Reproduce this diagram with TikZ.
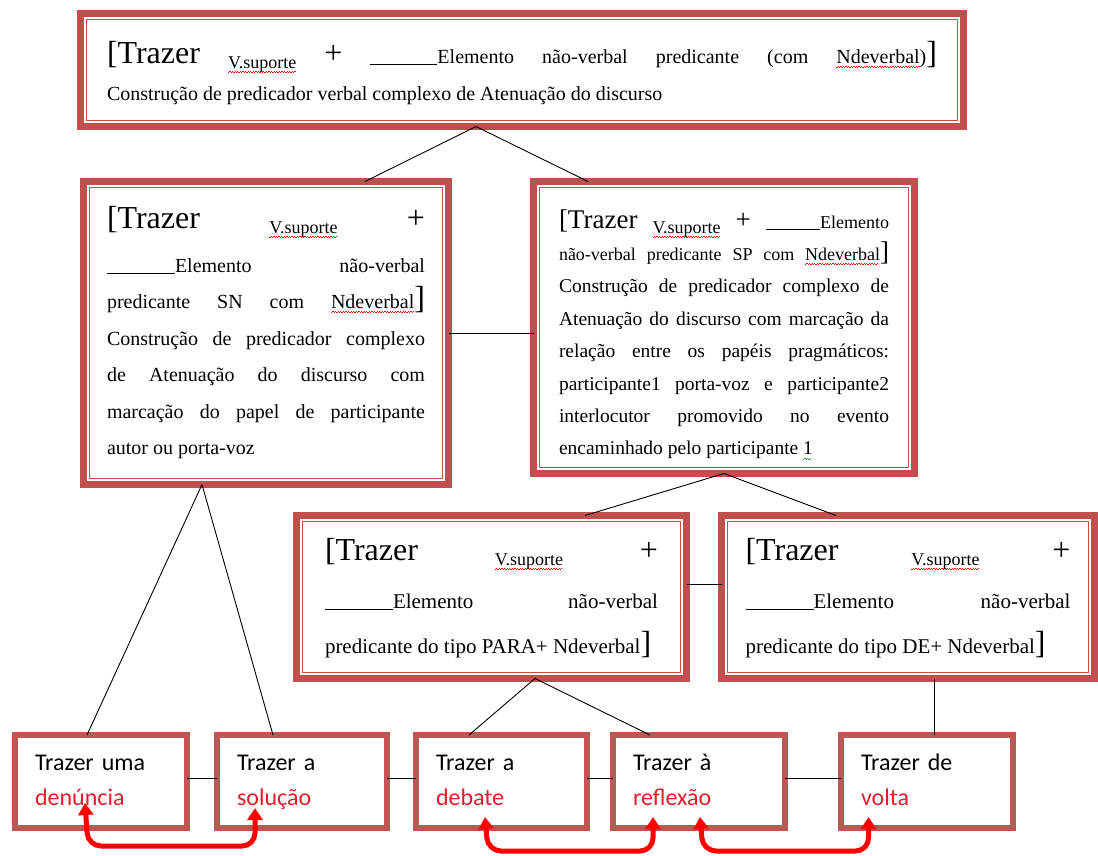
\documentclass[tikz,border=0pt]{standalone}
\usepackage{fontspec}
\setmainfont{Liberation Serif}
\newfontfamily\leaffont{Carlito}
\usetikzlibrary{positioning,arrows.meta}

\definecolor{boxred}{RGB}{192,80,77}
\definecolor{leafred}{RGB}{186,88,86}
\definecolor{wordred}{RGB}{226,30,42}
\definecolor{gramgreen}{RGB}{40,150,40}

\newcommand\wavemark[2]{\setbox0\hbox{#2}\leavevmode\rlap{\textcolor{#1}{\hbox to\wd0{\leaders\hbox{\rule[-4.6pt]{1.3pt}{0.7pt}\rule[-3.6pt]{1.3pt}{0.7pt}}\hfill}}}\box0}
\newcommand\opentr[1]{{\fontsize{#1}{#1}\selectfont[Trazer}}
\newcommand\bigsign[2]{{\fontsize{#1}{#1}\selectfont#2}}
\newcommand\vsup{\raisebox{-5pt}{\fontsize{18}{18}\selectfont\wavemark{red}{V.suporte}}}
\newcommand\blank[1]{\rule[-2pt]{#1}{1pt}}

\begin{document}
\begin{tikzpicture}[%
		x=1pt, y=-1pt,
		>={Triangle[length=12pt,width=15pt]},
		framebox/.style={%
			draw=boxred,
			line width=7pt,
			outer sep=0pt,
			anchor=north west,
			align=justify,
			path picture={\draw[boxred,line width=1.3pt] ([shift={(6.3pt,6.3pt)}]path picture bounding box.south west) rectangle ([shift={(-6.3pt,-6.3pt)}]path picture bounding box.north east);}
		},
		leafbox/.style={%
			draw=leafred,
			line width=6pt,
			outer sep=0pt,
			anchor=north west,
			align=left,
			inner xsep=20pt,
			inner ysep=8pt,
			text height=27pt,
			text depth=50pt,
			font=\leaffont\fontsize{24}{35}\selectfont
		},
		branch/.style={draw=black, line width=0.9pt},
		backarrow/.style={<->, red, line width=5pt, rounded corners=13pt}
		]
		\useasboundingbox (0,0) rectangle (1098,855);

		\node[framebox, inner xsep=26.5pt, inner ysep=10pt, text width=830pt, text height=39.5pt, text depth=53.5pt, font=\fontsize{20}{37}\selectfont] (top) at (80.5,13.5)
			{\opentr{32} \vsup{} \bigsign{32}{+} \blank{67pt}Elemento não-verbal predicante (com \wavemark{red}{Ndeverbal})\bigsign{32}{]}\linebreak
			Construção de predicador verbal complexo de Atenuação do discurso};
		\node[framebox, inner xsep=23.5pt, inner ysep=10pt, text width=318pt, text height=36.5pt, text depth=246.5pt, font=\fontsize{20}{36.5}\selectfont] (lmid) at (83.5,181.5)
			{\opentr{32}\hfill\vsup\hfill\bigsign{32}{+}\\[7.5pt]
			\blank{68pt}Elemento\hfill não-verbal\\
			predicante SN com \wavemark{red}{Ndeverbal}\bigsign{32}{]}\linebreak
			Construção de predicador complexo\linebreak
			de Atenuação do discurso com\linebreak
			marcação do papel de participante\linebreak
			autor ou porta-voz};
		\node[framebox, inner xsep=25.5pt, inner ysep=10pt, text width=330pt, text height=36.5pt, text depth=235.5pt, font=\fontsize{19.5}{32.4}\selectfont] (rmid) at (533.5,181.5)
			{{\fontsize{18}{32.4}\selectfont\opentr{27} \vsup{} \bigsign{27}{+} \blank{54pt}Elemento\linebreak
			não-verbal predicante SP com \wavemark{red}{Ndeverbal}\bigsign{27}{]}\linebreak}
			Construção de predicador complexo de\linebreak
			Atenuação do discurso com marcação da\linebreak
			relação entre os papéis pragmáticos:\linebreak
			participante1 porta-voz e participante2\linebreak
			interlocutor promovido no evento\linebreak
			encaminhado pelo participante \wavemark{gramgreen}{1}};
		\node[framebox, inner xsep=28.5pt, inner ysep=10pt, text width=333pt, text height=34.5pt, text depth=108.5pt, font=\fontsize{21}{45}\selectfont] (para) at (296.5,515.5)
			{\opentr{32}\hfill\vsup\hfill\bigsign{32}{+}\\[3pt]
			\blank{68pt}Elemento\hfill não-verbal\\
			predicante do tipo PARA+ Ndeverbal\bigsign{32}{]}};
		\node[framebox, inner xsep=24pt, inner ysep=10pt, text width=325pt, text height=34.5pt, text depth=108.5pt, font=\fontsize{21}{45}\selectfont] (de) at (721.5,515.5)
			{\opentr{32}\hfill\vsup\hfill\bigsign{32}{+}\\[3pt]
			\blank{68pt}Elemento\hfill não-verbal\\
			predicante do tipo DE+ Ndeverbal\bigsign{32}{]}};

		\node[leafbox, text width=132pt] (b1) at (15,735)  {Trazer uma\\\textcolor{wordred}{denúncia}};
		\node[leafbox, text width=130pt] (b2) at (217,735) {Trazer a\\\textcolor{wordred}{solução}};
		\node[leafbox, text width=131pt] (b3) at (416,735) {Trazer a\\\textcolor{wordred}{debate}};
		\node[leafbox, text width=132pt] (b4) at (613,735) {Trazer à\\\textcolor{wordred}{reflexão}};
		\node[leafbox, text width=132pt] (b5) at (841,735) {Trazer de\\\textcolor{wordred}{volta}};

		\path[branch] ([xshift=-46pt]top.south) edge ([xshift=99pt]lmid.north)
		([xshift=-46pt]top.south) edge ([xshift=-136pt]rmid.north)
		(lmid.east) edge (lmid.east -| rmid.west)
		(rmid.south) edge ([xshift=93.5pt]para.north)
		(rmid.south) edge ([xshift=-72pt]de.north)
		([yshift=13pt]para.east) edge ([yshift=13pt]de.west)
		([xshift=-64pt]lmid.south) edge ([xshift=-14pt]b1.north)
		([xshift=-64pt]lmid.south) edge ([xshift=-29pt]b2.north)
		([xshift=43.5pt]para.south) edge ([xshift=-32.5pt]b3.north)
		([xshift=43.5pt]para.south) edge ([xshift=-49pt]b4.north)
		([xshift=26pt]de.south) edge ([xshift=7pt]b5.north)
		([yshift=3pt]b1.east) edge ([yshift=3pt]b2.west)
		([yshift=3pt]b2.east) edge ([yshift=3pt]b3.west)
		([yshift=3pt]b3.east) edge ([yshift=3pt]b4.west)
		([yshift=3pt]b4.east) edge ([yshift=3pt]b5.west);

		\draw[backarrow] ([xshift=-16pt,yshift=-21.5pt]b1.center) -- ++(3,43) -| ([xshift=-47pt,yshift=-26.5pt]b2.center);
		\draw[backarrow] ([xshift=-16.5pt,yshift=-35.5pt]b3.center) -- ++(3,34) -| ([xshift=-46pt,yshift=-35.5pt]b4.center);
		\draw[backarrow] ([xshift=1pt,yshift=-35.5pt]b4.center) -- ++(3,34) -| ([xshift=-58.5pt,yshift=-35.5pt]b5.center);
		\end{tikzpicture}
\end{document}
